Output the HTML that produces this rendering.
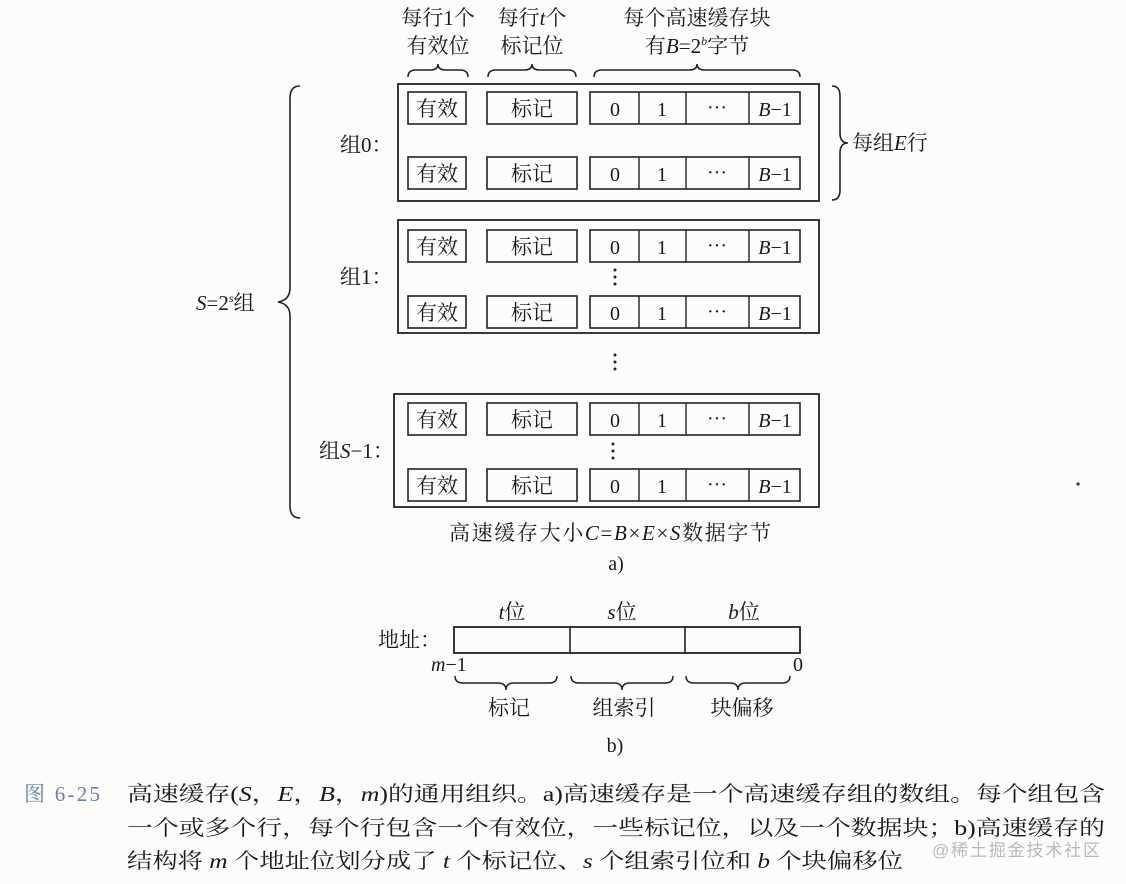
<!DOCTYPE html>
<html><head><meta charset="utf-8"><style>
html,body{margin:0;padding:0;background:#fcfcfa;}
svg{display:block;}
text{font-family:"Liberation Serif","Noto Serif CJK SC",serif;fill:#1a1a1a;}
.c{text-anchor:middle;}
</style></head><body>
<svg width="1126" height="884" viewBox="0 0 1126 884" xmlns="http://www.w3.org/2000/svg">
<g font-size="21">
<text class="c" x="438" y="25">每行1个</text>
<text class="c" x="438" y="53">有效位</text>
<text class="c" x="532" y="25">每行<tspan font-style="italic">t</tspan>个</text>
<text class="c" x="532" y="53">标记位</text>
<text class="c" x="697" y="25">每个高速缓存块</text>
<text class="c" x="697" y="53">有<tspan font-style="italic">B</tspan>=2<tspan font-size="12" dy="-8" font-style="italic">b</tspan><tspan dy="8">字节</tspan></text>
</g>
<g fill="none" stroke="#222" stroke-width="1.6">
<path d="M408,77 q0,-7 8,-7 h14 q8,0 8,-6 q0,6 8,6 h14 q8,0 8,7"/>
<path d="M488,77 q0,-7 8,-7 h28 q8,0 8,-6 q0,6 8,6 h28 q8,0 8,7"/>
<path d="M594,77 q0,-7 8,-7 h87 q8,0 8,-6 q0,6 8,6 h87 q8,0 8,7"/>
<path d="M832,86 q8,0 8,10 v37 q0,10 8,10 q-8,0 -8,10 v37 q0,10 -8,10"/>
<path d="M300,86 q-10,0 -10,12 v190 q0,12 -12,14 q12,2 12,14 v190 q0,12 10,12"/>
</g>
<g font-size="21">
<text x="852" y="150">每组<tspan font-style="italic">E</tspan>行</text>
<text x="196" y="310"><tspan font-style="italic">S</tspan>=2<tspan font-size="12" dy="-8" font-style="italic">s</tspan><tspan dy="8">组</tspan></text>
<text x="340" y="152">组0：</text>
<text x="340" y="284">组1：</text>
<text x="319" y="458">组<tspan font-style="italic">S</tspan>−1：</text>
</g>
<g fill="none" stroke="#222" stroke-width="1.8">
<rect x="398" y="84" width="421" height="117"/>
<rect x="398" y="220" width="421" height="113"/>
<rect x="394" y="394" width="425" height="113"/>
</g>
<defs>
<g id="row">
<rect x="408" y="0" width="58" height="32" fill="none" stroke="#222" stroke-width="1.6"/>
<rect x="487" y="0" width="90" height="32" fill="none" stroke="#222" stroke-width="1.6"/>
<rect x="590" y="0" width="210" height="32" fill="none" stroke="#222" stroke-width="1.6"/>
<path d="M639,0 v32 M686,0 v32 M749,0 v32" stroke="#222" stroke-width="1.4"/>
<text class="c" x="437" y="24" font-size="21">有效</text>
<text class="c" x="532" y="24" font-size="21">标记</text>
<text class="c" x="615" y="24" font-size="20">0</text>
<text class="c" x="662" y="24" font-size="20">1</text>
<text class="c" x="717" y="22" font-size="20">···</text>
<text class="c" x="775" y="24" font-size="20"><tspan font-style="italic">B</tspan>−1</text>
</g>
<g id="vd"><circle cx="0" cy="-7" r="1.5" fill="#222"/><circle cx="0" cy="0" r="1.5" fill="#222"/><circle cx="0" cy="7" r="1.5" fill="#222"/></g>
</defs>
<use href="#row" y="92"/><use href="#row" y="157"/>
<use href="#row" y="230"/><use href="#row" y="296"/>
<use href="#row" y="403"/><use href="#row" y="469"/>
<use href="#vd" x="615" y="277"/>
<use href="#vd" x="615" y="362"/>
<use href="#vd" x="613" y="451"/>
<circle cx="1078" cy="484" r="1.6" fill="#333"/>
<text class="c" x="610" y="540" font-size="21" textLength="322">高速缓存大小<tspan font-style="italic">C</tspan>=<tspan font-style="italic">B</tspan>×<tspan font-style="italic">E</tspan>×<tspan font-style="italic">S</tspan>数据字节</text>
<text class="c" x="616" y="570" font-size="20">a)</text>
<g font-size="21">
<text class="c" x="512" y="619"><tspan font-style="italic">t</tspan>位</text>
<text class="c" x="622" y="619"><tspan font-style="italic">s</tspan>位</text>
<text class="c" x="744" y="619"><tspan font-style="italic">b</tspan>位</text>
<text x="378" y="647">地址：</text>
<text x="431" y="671" font-size="20"><tspan font-style="italic">m</tspan>−1</text>
<text x="793" y="671" font-size="20">0</text>
<text class="c" x="509" y="715">标记</text>
<text class="c" x="624" y="715">组索引</text>
<text class="c" x="742" y="715">块偏移</text>
<text class="c" x="615" y="752" font-size="20">b)</text>
</g>
<rect x="454" y="627" width="346" height="26" fill="none" stroke="#222" stroke-width="1.8"/>
<path d="M570,627 v26 M685,627 v26" stroke="#222" stroke-width="1.6"/>
<g fill="none" stroke="#222" stroke-width="1.5">
<path d="M455,676 q0,7 8,7 h35 q8,0 8,7 q0,-7 8,-7 h35 q8,0 8,-7"/>
<path d="M571,676 q0,7 8,7 h35 q8,0 8,7 q0,-7 8,-7 h35 q8,0 8,-7"/>
<path d="M686,676 q0,7 8,7 h36 q8,0 8,7 q0,-7 8,-7 h36 q8,0 8,-7"/>
</g>
<g font-size="21">
<text x="24" y="801" textLength="76" style="fill:#6a80a8">图 6-25</text>
<text x="127" y="801" textLength="978" lengthAdjust="spacingAndGlyphs">高速缓存(<tspan font-style="italic">S</tspan>，<tspan font-style="italic">E</tspan>，<tspan font-style="italic">B</tspan>，<tspan font-style="italic">m</tspan>)的通用组织。a)高速缓存是一个高速缓存组的数组。每个组包含</text>
<text x="127" y="835" textLength="978" lengthAdjust="spacingAndGlyphs">一个或多个行，每个行包含一个有效位，一些标记位，以及一个数据块；b)高速缓存的</text>
<text x="127" y="868" textLength="776" lengthAdjust="spacingAndGlyphs">结构将 <tspan font-style="italic">m</tspan> 个地址位划分成了 <tspan font-style="italic">t</tspan> 个标记位、<tspan font-style="italic">s</tspan> 个组索引位和 <tspan font-style="italic">b</tspan> 个块偏移位</text>
<text x="932" y="856" font-size="17" textLength="168" style="fill:#b8b8b8;font-family:'Liberation Sans','Noto Sans CJK SC',sans-serif">@稀土掘金技术社区</text>
</g>
</svg>
</body></html>
